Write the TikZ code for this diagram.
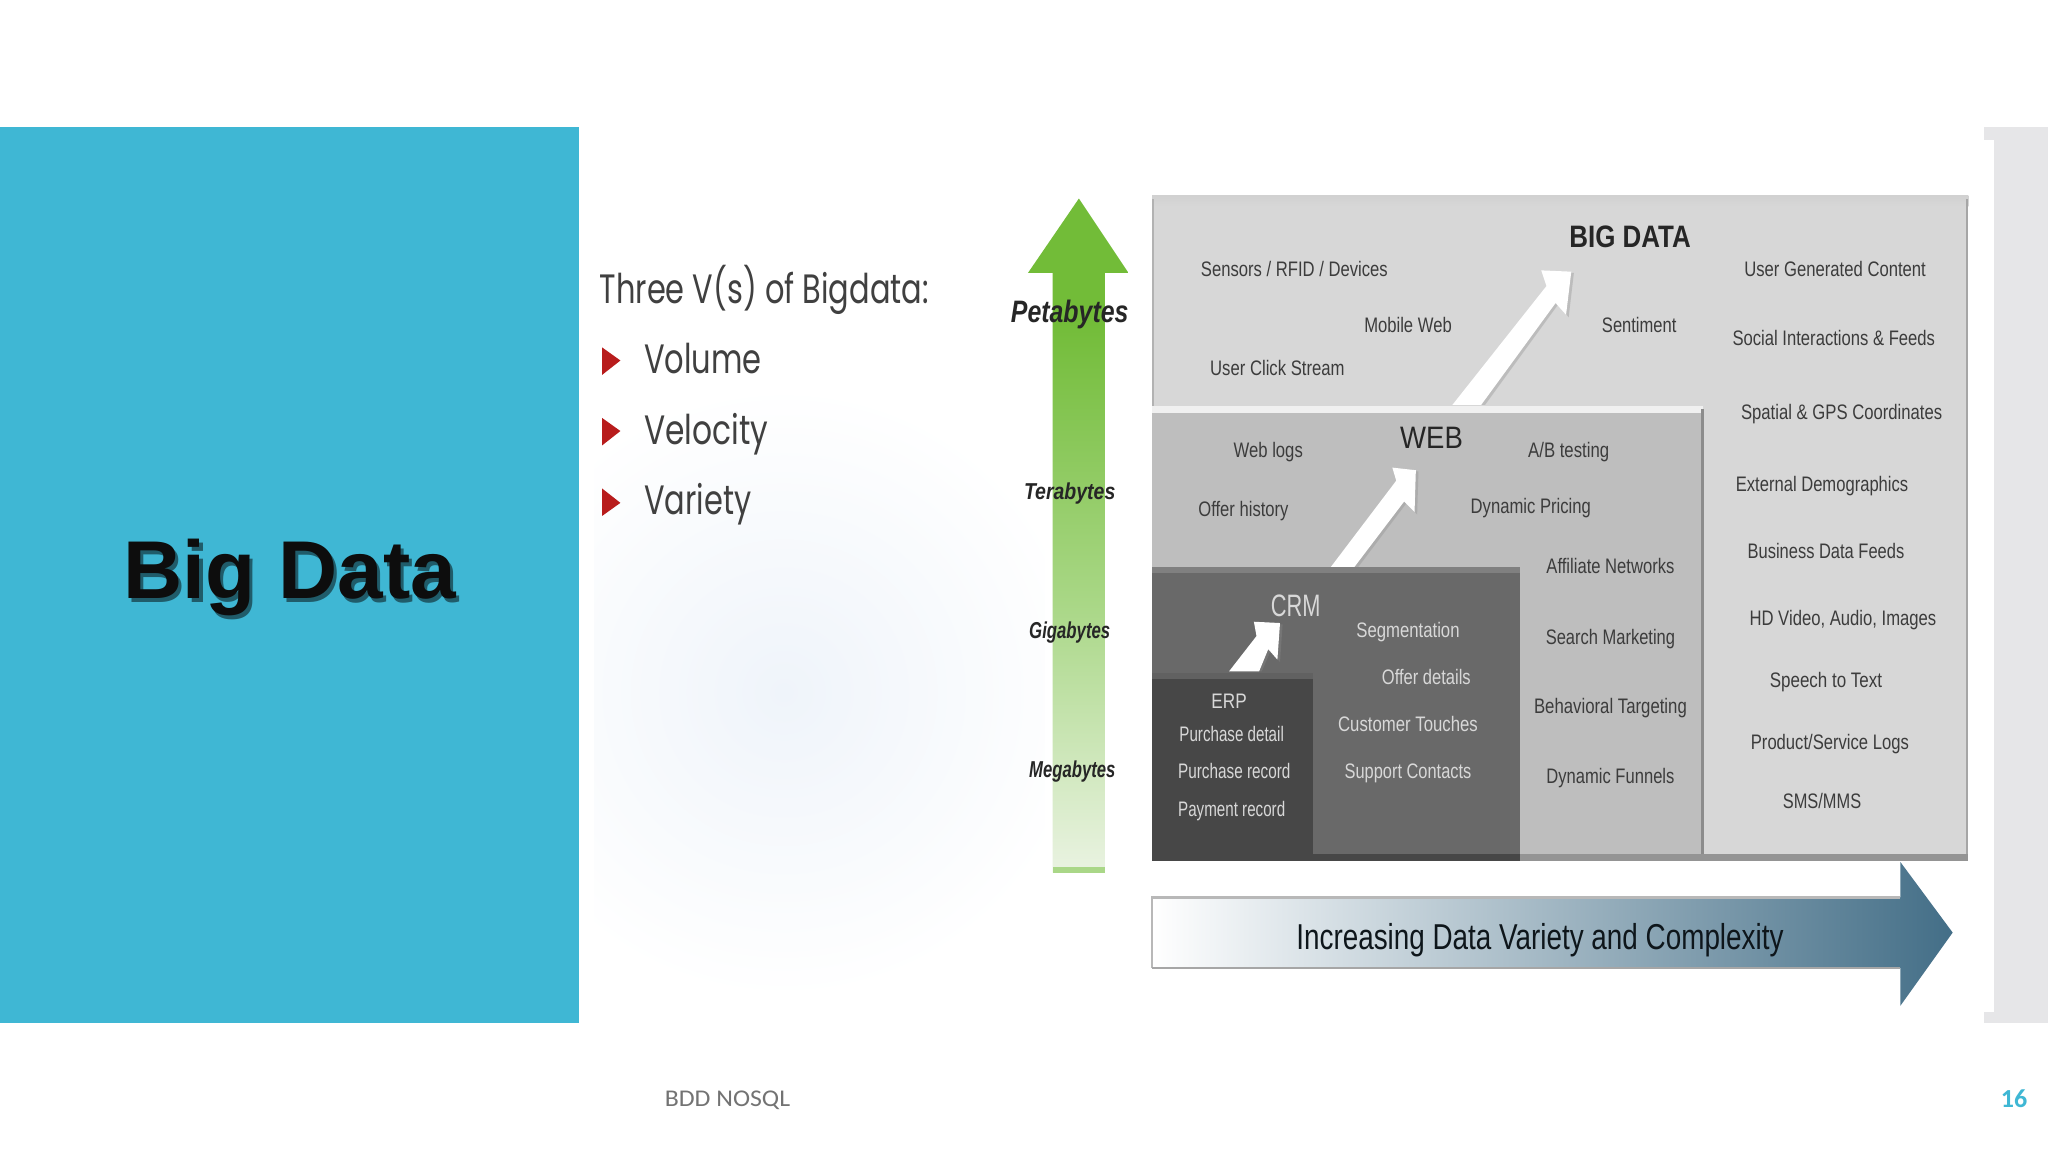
\documentclass[tikz,border=0pt]{standalone}
\usepackage{fontspec}
\usepackage{graphicx}
\setmainfont{Liberation Sans}
\newfontfamily\geo{Poppins}
\newfontfamily\foot{Carlito}
\definecolor{teal0}{HTML}{3FB7D4}
\definecolor{stripg}{HTML}{E6E6E8}
\definecolor{bigg}{HTML}{D7D7D7}
\definecolor{webg}{HTML}{BEBEBE}
\definecolor{crmg}{HTML}{696969}
\definecolor{erpg}{HTML}{474747}
\definecolor{txd}{HTML}{3C3C3C}
\definecolor{txl}{HTML}{D8D8D8}
\definecolor{g1}{HTML}{72BC38}
\definecolor{g2}{HTML}{A9D786}
\definecolor{g3}{HTML}{EAF3E2}
\definecolor{blu}{HTML}{EFF4FA}
\definecolor{arrd}{HTML}{436E87}
\definecolor{arrm}{HTML}{B4CAD4}
\definecolor{redb}{HTML}{B81C1C}
\pgfdeclareverticalshading{greenfade}{100bp}{color(0bp)=(g3); color(25bp)=(g3); color(45bp)=(g2); color(66bp)=(g1); color(100bp)=(g1)}
\newcommand{\fitw}[2]{\resizebox{1.30612\dimexpr #1pt\relax}{\height}{#2}}
\tikzset{
  x=1.30612pt, y=-1.30612pt,
  lbl/.style={inner sep=0pt, text=txd, font=\fontsize{21}{21}\selectfont},
  lbllight/.style={lbl, text=txl},
  head/.style={lbl, text=black!85, font=\fontsize{31}{31}\selectfont},
  axis/.style={lbl, text=black!85, font=\fontsize{23}{23}\selectfont\bfseries\itshape},
  lefttxt/.style={inner sep=0pt, anchor=base west, text=black!75, font=\fontsize{41}{41}\selectfont\geo},
  bullet/.style={fill=redb, draw=none},
  whitearrow/.style={fill=white, draw=none},
  arrowshadow/.style={fill=black!45, opacity=.35, draw=none},
}
\newcommand{\lb}[6][lbl]{\node[#1] (#2) at (#3,#4) {\fitw{#5}{#6}};}
\begin{document}
\begin{tikzpicture}
\useasboundingbox (0,0) rectangle (1568,882);
\fill[white] (0,0) rectangle (1568,882);
% glow
\begin{scope}
\clip (455,220) rectangle (800,778);
\shade[inner color=blu, outer color=white] (600,530) circle (235);
\end{scope}
% side panels
\fill[teal0] (0,97) rectangle (443,783);
\fill[stripg] (1519,97) rectangle (1568,783);
\fill[white] (1519,107) rectangle (1527,775);
% title
\node[inner sep=0pt, text=black!50!teal0, font=\fontsize{82}{82}\selectfont\bfseries] (titleshadow) at (224.5,445) {Big Data};
\node[inner sep=0pt, text=black!95, font=\fontsize{82}{82}\selectfont\bfseries] (title) at (222,442.5) {Big Data};
% left text
\node[lefttxt] (three) at (459,232) {\fitw{252}{Three V(s) of Bigdata:}};
\node[lefttxt] (vol) at (493,286) {\fitw{90}{Volume}};
\node[lefttxt] (vel) at (493,340) {\fitw{95}{Velocity}};
\node[lefttxt] (var) at (493,394) {\fitw{82}{Variety}};
\fill[bullet] (461,266) -- (475,276) -- (461,287) -- cycle;
\fill[bullet] (461,320) -- (475,330) -- (461,341) -- cycle;
\fill[bullet] (461,374) -- (475,385) -- (461,395) -- cycle;
% stacked boxes
\fill[bigg] (882,152) rectangle (1507,658);
\shade[top color=black!18, bottom color=bigg] (882,150) rectangle (1507,158);
\fill[black!35] (1505.5,152) rectangle (1507,658);
\fill[black!30] (882,152) rectangle (883.5,311);
\fill[webg] (882,311) rectangle (1304,658);
\fill[black!6] (882,311) rectangle (1304,316);
\fill[black!45] (1302.5,313) rectangle (1304.5,658);
\fill[crmg] (882,434) rectangle (1164,658);
\fill[black!50] (882,434) rectangle (1164,439);
\fill[erpg] (882,515) rectangle (1005,658);
\fill[black!62] (882,515) rectangle (1005,520);
\fill[black!42] (882,654) rectangle (1507,659);
\fill[black!72] (882,654) rectangle (1164,659);
% white arrows
\fill[arrowshadow] (1114,310) -- (1186,219) -- (1182,208) -- (1205,209) -- (1201,243) -- (1193,233) -- (1137,310) -- cycle;
\fill[whitearrow] (1112,310) -- (1184,219) -- (1180,207) -- (1203,208) -- (1199,241) -- (1191,232) -- (1134,310) -- cycle;
\fill[arrowshadow] (1021,434) -- (1071,369) -- (1068,359) -- (1086,361) -- (1085,394) -- (1077,385) -- (1040,434) -- cycle;
\fill[whitearrow] (1019,434) -- (1069,368) -- (1066,358) -- (1084,360) -- (1083,392) -- (1075,384) -- (1037,434) -- cycle;
\fill[arrowshadow] (943,514) -- (964,488) -- (962,477) -- (982,478) -- (980,507) -- (973,498) -- (966,514) -- cycle;
\fill[whitearrow] (941,514) -- (962,487) -- (960,476) -- (980,477) -- (978,505) -- (971,497) -- (964,514) -- cycle;
% green axis arrow
\path[shading=greenfade, draw=none] (826,152) -- (864,209) -- (846,209) -- (846,668) -- (806,668) -- (806,209) -- (787,209) -- cycle;
\fill[g1!60] (806,664) rectangle (846,668);
% bottom arrow
\shade[left color=white, middle color=arrm, right color=arrd] (882,687) -- (1455,687) -- (1455,660) -- (1495,714) -- (1455,770) -- (1455,741) -- (882,741) -- cycle;
\draw[black!28, line width=2.4pt] (882,741) -- (882,687) -- (1455,687);
\draw[black!35, line width=2.4pt] (882,741) -- (1455,741);
% axis labels
\lb[axis,font=\fontsize{31}{31}\selectfont\bfseries\itshape]{peta}{819}{240.5}{90}{Petabytes}
\lb[axis]{tera}{819}{378}{70}{Terabytes}
\lb[axis]{giga}{819}{484}{62}{Gigabytes}
\lb[axis]{mega}{821}{591}{66}{Megabytes}
% big data
\lb[head]{bigdata}{1248}{181}{93}{\bfseries BIG DATA}
\lb{s1}{991}{206}{143}{Sensors / RFID / Devices}
\lb{s2}{1078}{249}{67}{Mobile Web}
\lb{s3}{978}{282}{103}{User Click Stream}
\lb{s4}{1255}{249}{57}{Sentiment}
\lb{r1}{1405}{206}{139}{User Generated Content}
\lb{r2}{1404}{259}{155}{Social Interactions \& Feeds}
\lb{r3}{1410}{317}{154}{Spatial \& GPS Coordinates}
\lb{r4}{1395}{372}{132}{External Demographics}
\lb{r5}{1398}{422}{120}{Business Data Feeds}
\lb{r6}{1411}{475}{143}{HD Video, Audio, Images}
\lb{r7}{1398}{522}{86}{Speech to Text}
\lb{r8}{1401}{570}{121}{Product/Service Logs}
\lb{r9}{1395}{613}{60}{SMS/MMS}
% web
\lb[head]{web}{1096}{335}{48}{WEB}
\lb{w1}{971}{346}{53}{Web logs}
\lb{w2}{1201}{346}{62}{A/B testing}
\lb{w3}{952}{391}{69}{Offer history}
\lb{w4}{1172}{389}{92}{Dynamic Pricing}
\lb{w5}{1233}{433}{98}{Affiliate Networks}
\lb{w6}{1233}{489}{99}{Search Marketing}
\lb{w7}{1233}{542}{117}{Behavioral Targeting}
\lb{w8}{1233}{596}{98}{Dynamic Funnels}
% crm
\lb[head,text=txl]{crm}{992}{464}{38}{CRM}
\lb[lbllight]{c1}{1078}{484}{79}{Segmentation}
\lb[lbllight]{c2}{1092}{518}{68}{Offer details}
\lb[lbllight]{c3}{1078}{554}{107}{Customer Touches}
\lb[lbllight]{c4}{1078}{592}{97}{Support Contacts}
% erp
\lb[lbllight]{erp}{941}{537}{27}{ERP}
\lb[lbllight]{e1}{943}{562}{80}{Purchase detail}
\lb[lbllight]{e2}{945}{590}{86}{Purchase record}
\lb[lbllight]{e3}{943}{621}{82}{Payment record}
% bottom arrow text
\node[inner sep=0pt, text=black!80!arrd, font=\fontsize{36}{36}\selectfont] (incr) at (1179,720) {\fitw{373}{Increasing Data Variety and Complexity}};
% footer
\node[inner sep=0pt, text=black!55, font=\fontsize{24}{24}\selectfont\foot] (foot) at (557,842.5) {\fitw{96}{BDD NOSQL}};
\node[inner sep=0pt, text=teal0, font=\fontsize{26}{26}\selectfont\foot\bfseries] (page) at (1542,841) {16};
\end{tikzpicture}
\end{document}
